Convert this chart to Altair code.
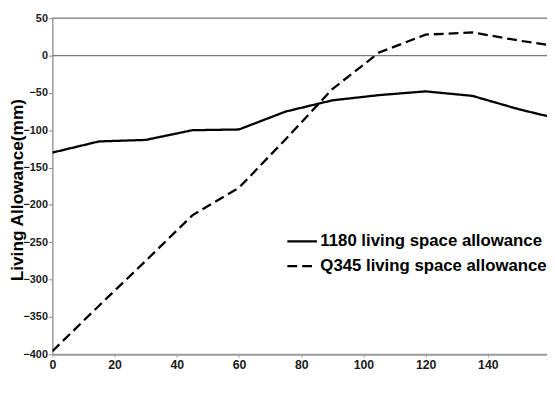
import altair as alt
import pandas as pd

time_ms = [0, 15, 30, 45, 60, 75, 90, 105, 120, 135, 150, 160]
allow_1180 = [-130, -115, -113, -100, -99, -75, -60, -53, -48, -54, -72, -82]
allow_q345 = [-396, -335, -275, -214, -177, -112, -45, 4, 28, 31, 20, 14]
series_names = ["1180 living space allowance", "Q345 living space allowance"]
ref_levels = [0, 50]
x_ticks = [0, 20, 40, 60, 80, 100, 120, 140, 160]
y_ticks = [-400, -350, -300, -250, -200, -150, -100, -50, 0, 50]

rows = []
for t, a, b in zip(time_ms, allow_1180, allow_q345):
    rows.append({"t": t, "v": a, "s": series_names[0]})
    rows.append({"t": t, "v": b, "s": series_names[1]})
df = pd.DataFrame(rows)
ref_df = pd.DataFrame({"v": ref_levels})

FONT = "Liberation Sans"
LABEL_FONT = "Liberation Sans Narrow, Liberation Sans"
x_scale = alt.Scale(domain=[0, 159], nice=False, zero=False)
y_scale = alt.Scale(domain=[-400, 50], nice=False, zero=False)

x_axis = alt.Axis(
    values=x_ticks,
    title="Time(ms)",
    grid=False,
    domainColor="#9a9a9a",
    domainWidth=2,
    tickColor="#9a9a9a",
    tickSize=3,
    labelPadding=2,
    labelFontSize=12.5,
    labelFontWeight="bold",
    labelColor="#1a1a1a",
    labelFont=FONT,
    labelFlush=False,
    labelOverlap=False,
    titleFont=FONT,
    titleFontSize=18,
    titleFontWeight="bold",
    titleColor="black",
    titleBaseline="alphabetic",
    titleY=375,
)

y_axis = alt.Axis(
    values=y_ticks,
    title="Living Allowance(mm)",
    grid=False,
    domainColor="#8a8a8a",
    domainWidth=1.2,
    tickColor="#8a8a8a",
    tickSize=4,
    labelPadding=1,
    labelFontSize=11,
    labelFontWeight="bold",
    labelColor="#1a1a1a",
    labelFont=LABEL_FONT,
    labelFlush=False,
    labelOverlap=False,
    titleFont=FONT,
    titleFontSize=17.5,
    titleFontWeight="bold",
    titleColor="black",
    titleBaseline="alphabetic",
    titleAngle=-90,
    titleX=-30,
    titleY=174,
)

lines = alt.Chart(df).mark_line(color="black", strokeWidth=2.3, clip=True).encode(
    x=alt.X("t:Q", scale=x_scale, axis=x_axis),
    y=alt.Y("v:Q", scale=y_scale, axis=y_axis),
    strokeDash=alt.StrokeDash(
        "s:N",
        scale=alt.Scale(domain=series_names, range=[[1, 0], [10, 5]]),
        legend=alt.Legend(
            title=None,
            orient="none",
            legendX=237,
            legendY=210,
            symbolType="stroke",
            symbolSize=900,
            symbolStrokeWidth=2.3,
            symbolStrokeColor="black",
            labelFont=FONT,
            labelFontSize=17,
            labelFontWeight="bold",
            labelColor="black",
            labelOffset=2,
            rowPadding=-6,
            labelLimit=400,
        ),
    ),
)

refs = alt.Chart(ref_df).mark_rule(color="#7a7a7a", strokeWidth=1.2).encode(
    y=alt.Y("v:Q", scale=y_scale, axis=y_axis)
)

chart = alt.layer(lines, refs).properties(
    width=502,
    height=341,
    autosize=alt.AutoSizeParams(type="none"),
    padding={"left": 45, "top": 7.5, "right": 0, "bottom": 37},
).configure_view(stroke=None).configure(background="white")

chart.save("out.html", embed_options={"renderer": "svg", "actions": False})
